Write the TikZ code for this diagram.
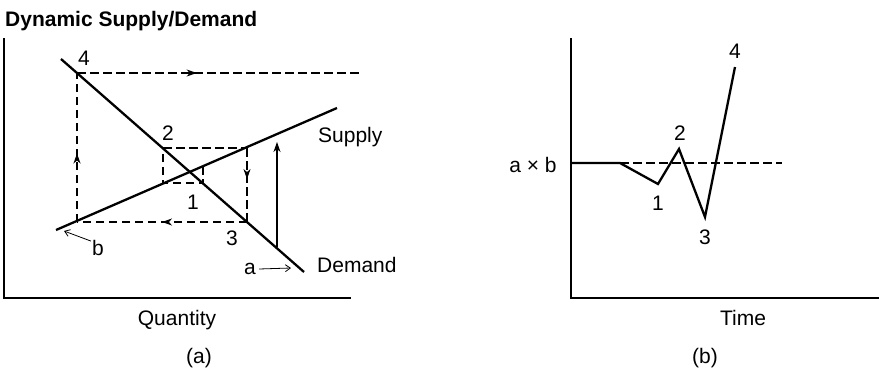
\documentclass[tikz,border=0pt]{standalone}
\usepackage{fontspec}
\setmainfont{Liberation Sans}
\usetikzlibrary{arrows.meta,decorations.markings}
\begin{document}
\begin{tikzpicture}[x=1pt,y=-1pt,
  curve/.style={line width=2.3pt, line join=miter},
  axis/.style={line width=1.1pt},
  cob/.style={dash pattern=on 8.5pt off 4.5pt, line width=1.1pt},
  midarrow/.style={postaction={decorate}, decoration={markings,
     mark=at position #1 with {\arrow{Stealth[length=10pt,width=7pt,inset=3pt]}}}},
  barb/.style={line width=0.8pt, -{Straight Barb[length=5pt,width=7pt]}},
  lbl/.style={font=\fontsize{21}{25}\selectfont, inner sep=0pt},
  ttl/.style={font=\fontsize{21}{25}\selectfont\bfseries, inner sep=0pt}]
\useasboundingbox (0,0) rectangle (879,370);
% title
\node[ttl, anchor=base west] (title) at (5,26) {Dynamic Supply/Demand};
% ---------- panel (a) ----------
\coordinate (aTop) at (4,38);
\coordinate (aO) at (4,298);
\coordinate (aEnd) at (351,298);
\draw[axis] (aTop) -- (aO) -- (aEnd);
% curves
\coordinate (d0) at (61,59);
\coordinate (d1) at (304,272);
\coordinate (s0) at (56,230);
\coordinate (s1) at (337,108);
\draw[curve] (d0) -- (d1);
\draw[curve] (s0) -- (s1);
% cobweb points
\coordinate (p4) at (77,73);
\coordinate (p4r) at (362,73);
\coordinate (p2) at (163,148);
\coordinate (p2r) at (247,148);
\coordinate (p3) at (247,222);
\coordinate (p3l) at (77,222);
\coordinate (p1t) at (203,166);
\coordinate (p1) at (203,183);
\coordinate (p1l) at (163,183);
\draw[cob] (p1t) -- (p1) -- (p1l) -- (p2);
\draw[cob] (p2) -- (p2r);
\draw[cob, midarrow=0.42] (p2r) -- (p3);
\draw[cob, midarrow=0.5] (p3) -- (p3l);
\draw[cob, midarrow=0.46] (p3l) -- (p4);
\draw[cob, midarrow=0.42] (p4) -- (p4r);
% solid shift arrow
\coordinate (shA) at (277,247);
\coordinate (shB) at (277,142);
\draw[line width=1.1pt, -{Stealth[length=10pt,width=7pt,inset=3pt]}] (shA) -- (shB);
% labels
\node[lbl] (l4) at (84,58) {4};
\node[lbl] (l2) at (168,133) {2};
\node[lbl] (l1) at (193,202) {1};
\node[lbl] (l3) at (232,238) {3};
\node[lbl, anchor=base west] (supply) at (318,142) {Supply};
\node[lbl, anchor=base west] (demand) at (317,272) {Demand};
\node[lbl] (lb) at (98,248) {b};
\node[lbl] (la) at (250,269) {a};
\coordinate (bTip) at (64,231);
\coordinate (aTip) at (291,268);
\draw[barb] (lb.north west) ++(-1,1) -- (bTip);
\draw[barb] (la.east) ++(3,0) -- (aTip);
\node[lbl, anchor=base] (qty) at (177,325) {Quantity};
\node[lbl] (capa) at (199,358) {(a)};
% ---------- panel (b) ----------
\coordinate (bTop) at (571,38);
\coordinate (bO) at (571,298);
\coordinate (bEnd) at (879,298);
\draw[axis] (bTop) -- (bO) -- (bEnd);
\coordinate (t0) at (571,163);
\coordinate (t1) at (620,163);
\coordinate (t2) at (658,184);
\coordinate (t3) at (679,149);
\coordinate (t4) at (705,217);
\coordinate (t5) at (735,67);
\coordinate (tEnd) at (782,163);
\draw[cob] (t1) -- (tEnd);
\draw[curve] (t0) -- (t1) -- (t2) -- (t3) -- (t4) -- (t5);
\node[lbl, anchor=base] (ab) at (533,172) {a × b};
\node[lbl] (m1) at (658,203) {1};
\node[lbl] (m2) at (680,133) {2};
\node[lbl] (m3) at (705,237) {3};
\node[lbl] (m4) at (735,51) {4};
\node[lbl, anchor=base] (time) at (743,325) {Time};
\node[lbl] (capb) at (705,358) {(b)};
\end{tikzpicture}
\end{document}
